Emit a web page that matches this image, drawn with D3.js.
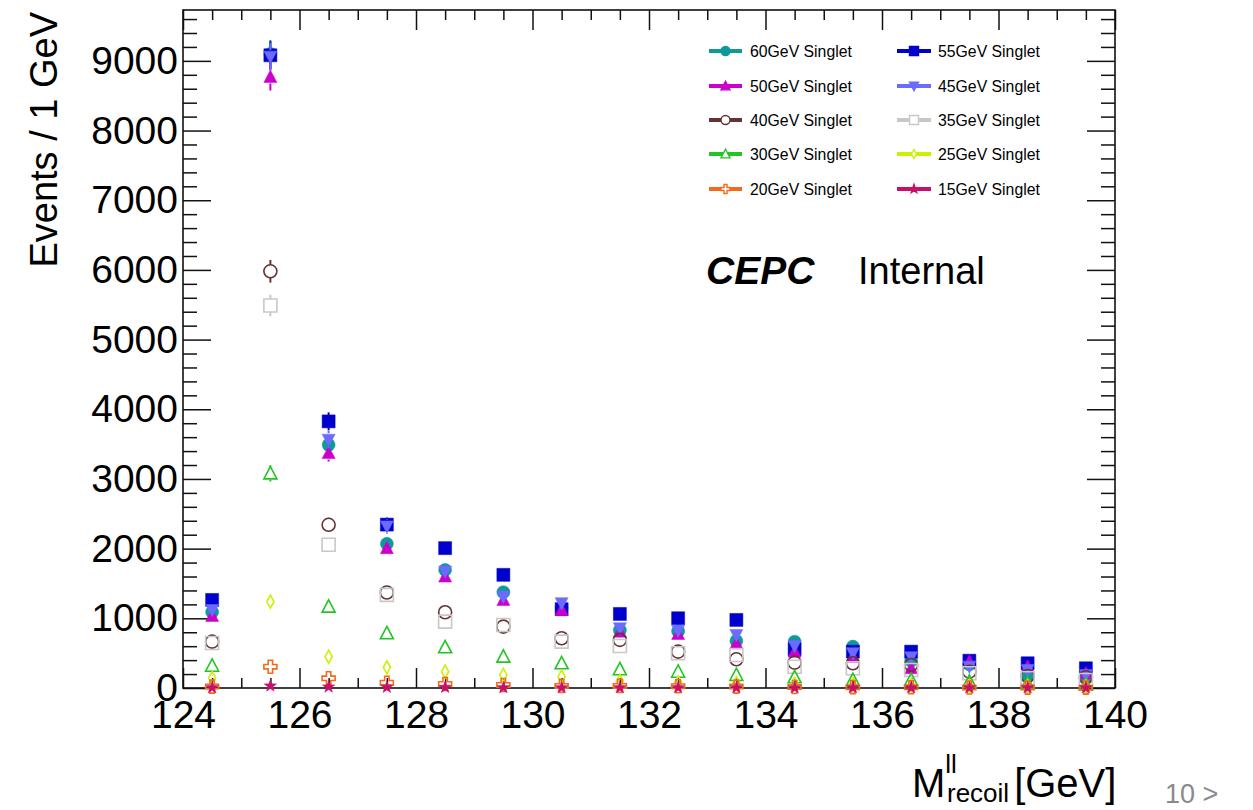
<!DOCTYPE html>
<html>
<head>
<meta charset="utf-8">
<script src="https://cdn.jsdelivr.net/npm/d3@7"></script>
<style>
  body { margin: 0; background: #fff; }
  svg { font-family: "Liberation Sans", Arial, sans-serif; }
</style>
</head>
<body>
<div id="chart"></div>
<script>
// bin centres of the recoil mass histogram (GeV)
const bins = [124.5, 125.5, 126.5, 127.5, 128.5, 129.5, 130.5, 131.5, 132.5, 133.5, 134.5, 135.5, 136.5, 137.5, 138.5, 139.5];

// events per bin, one array per singlet mass
const s60 = [1090, 9100, 3490, 2070, 1695, 1375, 1150, 830, 815, 675, 665, 594, 392, 340, 187, 139];
const s55 = [1264, 9080, 3826, 2345, 2007, 1624, 1131, 1063, 1001, 977, 556, 522, 522, 392, 355, 283];
const s50 = [1035, 8770, 3372, 2007, 1600, 1264, 1121, 809, 776, 642, 522, 450, 283, 378, 306, 211];
const s45 = [1120, 9060, 3563, 2318, 1671, 1312, 1217, 857, 823, 761, 603, 499, 441, 306, 259, 187];
const s40 = [665, 5980, 2342, 1370, 1087, 881, 714, 690, 522, 412, 364, 355, 331, 234, 172, 154];
const s35 = [645, 5490, 2055, 1336, 953, 905, 665, 603, 499, 474, 306, 283, 259, 211, 139, 115];
const s30 = [320, 3080, 1168, 786, 585, 450, 355, 269, 234, 187, 154, 115, 115, 91, 67, 50];
const s25 = [143, 1240, 450, 297, 234, 187, 162, 100, 80, 70, 60, 50, 40, 30, 25, 20];
const s20 = [20, 306, 139, 76, 57, 43, 30, 30, 25, 20, 15, 12, 10, 8, 6, 5];
const s15 = [5, 30, 15, 10, 10, 5, 5, 5, 5, 5, 3, 3, 3, 2, 2, 2];

const labels = ['60GeV Singlet', '55GeV Singlet', '50GeV Singlet', '45GeV Singlet', '40GeV Singlet',
                '35GeV Singlet', '30GeV Singlet', '25GeV Singlet', '20GeV Singlet', '15GeV Singlet'];
const colors = ['#0e9a9a', '#0000cc', '#cc00cc', '#6b6bff', '#663333',
                '#c8c8c8', '#22c522', '#ccf000', '#f26b1d', '#c8106a'];
const markers = ['circle', 'square', 'triUp', 'triDown', 'openCircle',
                 'openSquare', 'openTri', 'openDiamond', 'openCross', 'star'];
const seriesValues = [s60, s55, s50, s45, s40, s35, s30, s25, s20, s15];

const xTicksMajor = [124, 126, 128, 130, 132, 134, 136, 138, 140];
const yTicksMajor = [0, 1000, 2000, 3000, 4000, 5000, 6000, 7000, 8000, 9000];

// weighted events: error = sqrt(w * N)
const eventWeight = 4.4;

const width = 1253, height = 810;
const plotLeft = 183, plotRight = 1115, plotTop = 10, plotBottom = 688;

const svg = d3.select('#chart').append('svg')
  .attr('width', width)
  .attr('height', height);

const x = d3.scaleLinear().domain([124, 140]).range([plotLeft, plotRight]);
const y = d3.scaleLinear().domain([0, 9730]).range([plotBottom, plotTop]);

const xMinor = d3.range(124, 140.01, 0.5).filter(v => v % 2 !== 0);
const yMinor = d3.range(0, 9730, 200).filter(v => v % 1000 !== 0);

// ROOT-like marker paths
function markerPath(type, s) {
  const r = s / 2;
  switch (type) {
    case 'circle':
    case 'openCircle':
      return `M${-r},0A${r},${r} 0 1,0 ${r},0A${r},${r} 0 1,0 ${-r},0Z`;
    case 'square':
    case 'openSquare':
      return `M${-r},${-r}H${r}V${r}H${-r}Z`;
    case 'triUp':
    case 'openTri':
      return `M0,${-r * 1.05}L${r},${r * 0.85}L${-r},${r * 0.85}Z`;
    case 'triDown':
      return `M0,${r * 1.05}L${r},${-r * 0.85}L${-r},${-r * 0.85}Z`;
    case 'openDiamond':
      return `M0,${-r}L${r * 0.55},0L0,${r}L${-r * 0.55},0Z`;
    case 'openCross': {
      const a = r * 0.34;
      return `M${-a},${-r}H${a}V${-a}H${r}V${a}H${a}V${r}H${-a}V${a}H${-r}V${-a}H${-a}Z`;
    }
    case 'star': {
      let p = '';
      for (let i = 0; i < 10; i++) {
        const rr = i % 2 === 0 ? r * 1.0 : r * 0.4;
        const ang = -Math.PI / 2 + i * Math.PI / 5;
        p += (i === 0 ? 'M' : 'L') + (rr * Math.cos(ang)).toFixed(2) + ',' + (rr * Math.sin(ang)).toFixed(2);
      }
      return p + 'Z';
    }
  }
}
const isOpen = t => t.startsWith('open');

// axes
const axisFont = 39;

svg.append('g').attr('transform', `translate(0,${plotBottom})`)
  .call(d3.axisBottom(x).tickValues(xTicksMajor).tickSize(-20).tickSizeOuter(0).tickPadding(12).tickFormat(d3.format('d')));
svg.append('g').attr('transform', `translate(0,${plotBottom})`)
  .call(d3.axisBottom(x).tickValues(xMinor).tickSize(-10).tickFormat(''));
svg.append('g').attr('transform', `translate(0,${plotTop})`)
  .call(d3.axisTop(x).tickValues(xTicksMajor).tickSize(-20).tickFormat(''));
svg.append('g').attr('transform', `translate(0,${plotTop})`)
  .call(d3.axisTop(x).tickValues(xMinor).tickSize(-10).tickFormat(''));

svg.append('g').attr('transform', `translate(${plotLeft},0)`)
  .call(d3.axisLeft(y).tickValues(yTicksMajor).tickSize(-28).tickSizeOuter(0).tickPadding(5).tickFormat(d3.format('d')));
svg.append('g').attr('transform', `translate(${plotLeft},0)`)
  .call(d3.axisLeft(y).tickValues(yMinor).tickSize(-14).tickFormat(''));
svg.append('g').attr('transform', `translate(${plotRight},0)`)
  .call(d3.axisRight(y).tickValues(yTicksMajor).tickSize(-28).tickFormat(''));
svg.append('g').attr('transform', `translate(${plotRight},0)`)
  .call(d3.axisRight(y).tickValues(yMinor).tickSize(-14).tickFormat(''));

svg.selectAll('.domain').remove();
svg.selectAll('.tick line').attr('stroke', '#111').attr('stroke-width', 1.5);
svg.selectAll('.tick text').attr('font-size', axisFont).attr('fill', '#000')
  .attr('font-family', '"Liberation Sans", Arial, sans-serif');

svg.append('rect')
  .attr('x', plotLeft).attr('y', plotTop)
  .attr('width', plotRight - plotLeft).attr('height', plotBottom - plotTop)
  .attr('fill', 'none').attr('stroke', '#111').attr('stroke-width', 1.6);

// data points
const markerSize = 13;
seriesValues.forEach((vals, si) => {
  const g = svg.append('g');
  const color = colors[si];
  const type = markers[si];
  const rr = markerSize / 2;
  vals.forEach((v, i) => {
    const cx = x(bins[i]);
    const cy = y(v);
    const err = Math.sqrt(eventWeight * v);
    const dy = y(0) - y(err);
    if (dy > rr) {
      g.append('line').attr('x1', cx).attr('x2', cx).attr('y1', cy - dy).attr('y2', cy - rr)
        .attr('stroke', color).attr('stroke-width', 2);
      g.append('line').attr('x1', cx).attr('x2', cx).attr('y1', cy + rr).attr('y2', cy + dy)
        .attr('stroke', color).attr('stroke-width', 2);
    }
  });
  g.selectAll('path')
    .data(vals)
    .enter()
    .append('path')
    .attr('transform', (d, i) => `translate(${x(bins[i])},${y(d)})`)
    .attr('d', markerPath(type, markerSize))
    .attr('fill', isOpen(type) ? 'none' : color)
    .attr('stroke', color)
    .attr('stroke-width', isOpen(type) ? 1.6 : 0.5);
});

// legend
const legendRows = [51, 86, 120, 154, 189];
const legendCols = [{ x1: 709, x2: 742, tx: 750 }, { x1: 897, x2: 931, tx: 938 }];
labels.forEach((lab, i) => {
  const col = legendCols[i % 2];
  const ly = legendRows[Math.floor(i / 2)];
  const g = svg.append('g');
  g.append('line').attr('x1', col.x1).attr('x2', col.x2).attr('y1', ly).attr('y2', ly)
    .attr('stroke', colors[i]).attr('stroke-width', 4);
  g.append('path')
    .attr('transform', `translate(${(col.x1 + col.x2) / 2},${ly})`)
    .attr('d', markerPath(markers[i], 9))
    .attr('fill', isOpen(markers[i]) ? '#fff' : colors[i])
    .attr('stroke', colors[i])
    .attr('stroke-width', 1.4);
  g.append('text').attr('x', col.tx).attr('y', ly + 6)
    .attr('font-size', 15.8).attr('fill', '#000').text(lab);
});

// CEPC Internal
svg.append('text').attr('x', 706).attr('y', 284)
  .attr('font-size', 39).attr('font-weight', 'bold').attr('font-style', 'italic')
  .text('CEPC');
svg.append('text').attr('x', 858).attr('y', 284)
  .attr('font-size', 38).text('Internal');

// axis titles
svg.append('text')
  .attr('transform', `translate(57,12) rotate(-90)`)
  .attr('text-anchor', 'end')
  .attr('font-size', 38)
  .text('Events / 1 GeV');

const xt = svg.append('text').attr('x', 912).attr('y', 797).attr('font-size', 40);
xt.append('tspan').text('M');
xt.append('tspan').attr('font-size', 26).attr('dy', -24).text('ll');
xt.append('tspan').attr('font-size', 26).attr('x', 947).attr('dy', 29).text('recoil');
xt.append('tspan').attr('dy', -5).attr('dx', 5).text('[GeV]');

// slide page marker
svg.append('text').attr('x', 1165).attr('y', 803)
  .attr('font-size', 27).attr('fill', '#8a8a8a').text('10 >');
</script>
</body>
</html>
